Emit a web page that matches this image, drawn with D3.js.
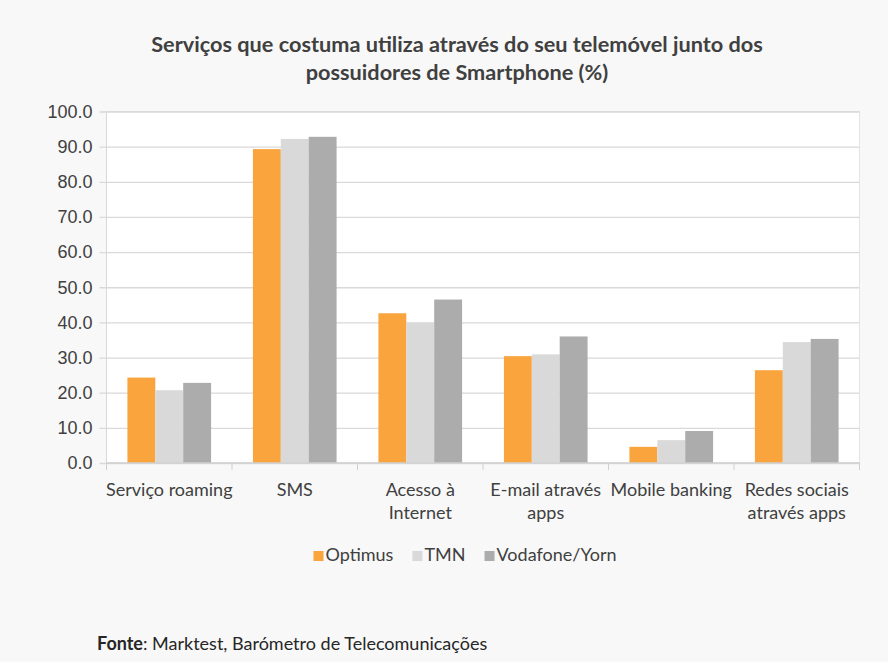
<!DOCTYPE html>
<html>
<head>
<meta charset="utf-8">
<script src="https://cdn.jsdelivr.net/npm/d3@7"></script>
<style>
  body { margin: 0; background: #f8f8f8; }
  svg { display: block; font-family: Lato, "Open Sans", sans-serif; }
</style>
</head>
<body>
<div id="graf"></div>
<script>
// Dados
const categorias = ["Serviço roaming", "SMS", "Acesso à Internet", "E-mail através apps", "Mobile banking", "Redes sociais através apps"]
const series = ["Optimus", "TMN", "Vodafone/Yorn"]
const optimus = [24.3, 89.3, 42.6, 30.4, 4.6, 26.4]
const tmn = [20.7, 92.2, 39.9, 30.9, 6.5, 34.4]
const vodafone = [22.8, 92.8, 46.5, 36.0, 9.1, 35.3]
const yTicks = [0, 10, 20, 30, 40, 50, 60, 70, 80, 90, 100]
const titulo = ["Serviços que costuma utiliza através do seu telemóvel junto dos", "possuidores de Smartphone (%)"]

const valores = [optimus, tmn, vodafone]
const data = categorias.map((c, i) => {
    const o = { cat: c }
    series.forEach((s, j) => o[s] = valores[j][i])
    return o
})

// Dimensões
const anchoTotal = 888
const altoTotal = 662
const margins = { top: 111.5, right: 28.5, bottom: 199, left: 106.5 }
const ancho = anchoTotal - margins.left - margins.right
const alto = altoTotal - margins.top - margins.bottom

const colores = ["#f9a43c", "#d9d9d9", "#acacac"]
const colorTexto = "#404040"
const fs = "18px"

const svg = d3.select("#graf").append("svg")
    .attr("width", anchoTotal)
    .attr("height", altoTotal)

svg.append("rect")
    .attr("width", anchoTotal)
    .attr("height", altoTotal)
    .attr("fill", "#f8f8f8")

const g = svg.append("g")
    .attr("transform", `translate(${margins.left}, ${margins.top})`)

g.append("rect")
    .attr("width", ancho)
    .attr("height", alto)
    .attr("fill", "#ffffff")
    .attr("stroke", "#e4e4e4")

// Escaladores
const x0 = d3.scaleBand()
    .domain(categorias)
    .range([0, ancho])

const bw = x0.bandwidth() / 4.5
const x1 = d3.scaleBand()
    .domain(series)
    .range([0.75 * bw, 3.75 * bw])

const y = d3.scaleLinear()
    .domain([0, 100])
    .range([alto, 0])

const color = d3.scaleOrdinal()
    .domain(series)
    .range(colores)

// Grelha e eixo y
const yAxis = d3.axisLeft(y)
    .tickValues(yTicks)
    .tickSize(-ancho)
    .tickPadding(14)
    .tickFormat(d3.format(".1f"))

const yAxisGroup = g.append("g").call(yAxis)
yAxisGroup.select(".domain").remove()
yAxisGroup.selectAll(".tick line")
    .attr("x1", -7)
    .attr("stroke", "#d9d9d9")
    .attr("stroke-width", 1.3)
yAxisGroup.selectAll(".tick text")
    .attr("fill", colorTexto)
    .style("font-size", fs)

g.append("line")
    .attr("x1", 0).attr("x2", 0)
    .attr("y1", 0).attr("y2", alto)
    .attr("stroke", "#d9d9d9")

// Barras
g.append("g")
    .selectAll("g")
    .data(data)
    .join("g")
    .attr("transform", d => `translate(${x0(d.cat)},0)`)
    .selectAll("rect")
    .data(d => series.map(s => ({ s: s, v: d[s] })))
    .join("rect")
    .attr("x", d => x1(d.s))
    .attr("y", d => y(d.v))
    .attr("width", x1.bandwidth())
    .attr("height", d => alto - y(d.v))
    .attr("fill", d => color(d.s))

// Eixo x
const xAxisGroup = g.append("g")
    .attr("transform", `translate(0,${alto})`)

xAxisGroup.append("line")
    .attr("x1", 0).attr("x2", ancho)
    .attr("stroke", "#d0d0d0")
    .attr("stroke-width", 1.3)

xAxisGroup.selectAll(".sep")
    .data(categorias.concat(["fim"]))
    .join("line")
    .attr("x1", (d, i) => i * x0.step())
    .attr("x2", (d, i) => i * x0.step())
    .attr("y1", 0).attr("y2", 7)
    .attr("stroke", "#d0d0d0")

const wrap = (texto, largura, el) => {
    const palavras = texto.split(" ")
    const linhas = []
    let atual = []
    const t = el.append("tspan")
    palavras.forEach(p => {
        const teste = atual.concat([p]).join(" ")
        t.text(teste)
        if (t.node().getComputedTextLength() > largura && atual.length) {
            linhas.push(atual.join(" "))
            atual = [p]
        } else {
            atual.push(p)
        }
    })
    linhas.push(atual.join(" "))
    t.remove()
    return linhas
}

xAxisGroup.selectAll(".cat")
    .data(categorias)
    .join("text")
    .attr("class", "cat")
    .attr("text-anchor", "middle")
    .attr("fill", colorTexto)
    .style("font-size", fs)
    .each(function (d) {
        const el = d3.select(this)
        const linhas = wrap(d, x0.bandwidth() + 6, el)
        linhas.forEach((l, i) => {
            el.append("tspan")
                .attr("x", x0(d) + x0.bandwidth() / 2)
                .attr("y", 33 + i * 23)
                .text(l)
        })
    })

// Título
svg.append("text")
    .attr("text-anchor", "middle")
    .attr("fill", colorTexto)
    .style("font-size", "21.7px")
    .style("font-weight", "bold")
    .selectAll("tspan")
    .data(titulo)
    .join("tspan")
    .attr("x", 457)
    .attr("y", (d, i) => 52 + i * 28)
    .text(d => d)

// Legenda
const legenda = svg.append("g")
let lx = 0
series.forEach((s, i) => {
    const item = legenda.append("g").attr("transform", `translate(${lx},0)`)
    item.append("rect")
        .attr("x", 0).attr("y", -10)
        .attr("width", 10).attr("height", 10)
        .attr("fill", color(s))
    const t = item.append("text")
        .attr("x", 12)
        .attr("y", 0)
        .attr("fill", colorTexto)
        .style("font-size", fs)
        .text(s)
    lx += 12 + t.node().getComputedTextLength() + 19
})
lx -= 19
legenda.attr("transform", `translate(${465 - lx / 2},561)`)

// Fonte
svg.append("text")
    .attr("x", 97)
    .attr("y", 650)
    .attr("fill", "#262626")
    .style("font-size", "18px")
    .call(t => t.append("tspan").style("font-weight", "bold").text("Fonte"))
    .call(t => t.append("tspan").text(": Marktest, Barómetro de Telecomunicações"))
</script>
</body>
</html>
